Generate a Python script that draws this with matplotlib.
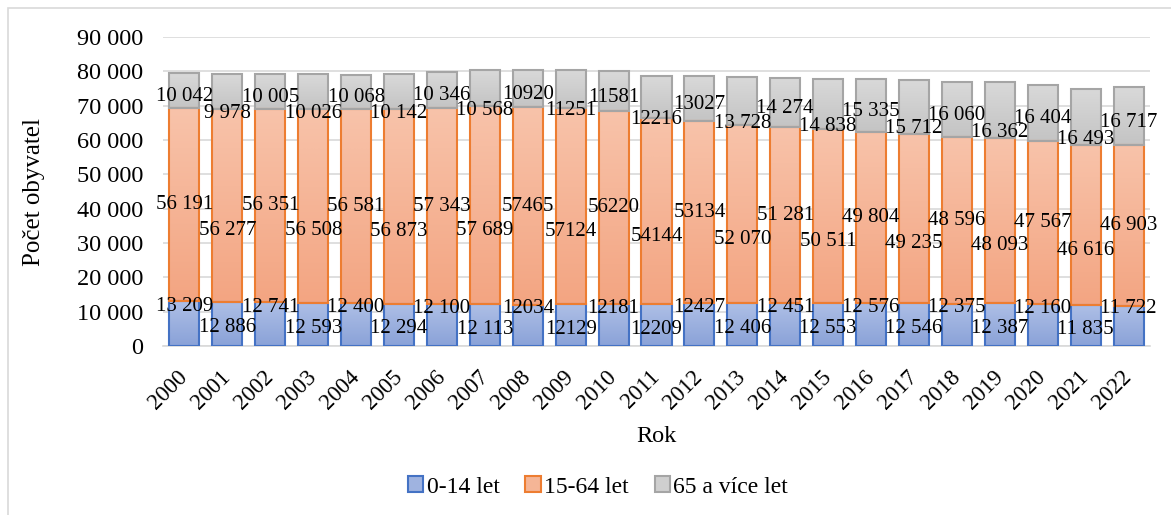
import matplotlib
matplotlib.use("Agg")
import matplotlib.pyplot as plt
import numpy as np
from matplotlib.patches import Patch, Rectangle
from matplotlib.colors import LinearSegmentedColormap

plt.rcParams['font.family'] = ['Liberation Serif', 'DejaVu Serif']

years = [str(y) for y in range(2000, 2023)]
kids = [13209, 12886, 12741, 12593, 12400, 12294, 12100, 12113, 12034, 12129, 12181, 12209,
        12427, 12406, 12451, 12553, 12576, 12546, 12375, 12387, 12160, 11835, 11722]
adults = [56191, 56277, 56351, 56508, 56581, 56873, 57343, 57689, 57465, 57124, 56220, 54144,
          53134, 52070, 51281, 50511, 49804, 49235, 48596, 48093, 47567, 46616, 46903]
seniors = [10042, 9978, 10005, 10026, 10068, 10142, 10346, 10568, 10920, 11251, 11581, 12216,
           13027, 13728, 14274, 14838, 15335, 15712, 16060, 16362, 16404, 16493, 16717]

kids_lbl = ["13 209", "12 886", "12 741", "12 593", "12 400", "12 294", "12 100", "12 113", "12034",
            "12129", "12181", "12209", "12427", "12 406", "12 451", "12 553", "12 576", "12 546",
            "12 375", "12 387", "12 160", "11 835", "11 722"]
adults_lbl = ["56 191", "56 277", "56 351", "56 508", "56 581", "56 873", "57 343", "57 689", "57465",
              "57124", "56220", "54144", "53134", "52 070", "51 281", "50 511", "49 804", "49 235",
              "48 596", "48 093", "47 567", "46 616", "46 903"]
seniors_lbl = ["10 042", "9 978", "10 005", "10 026", "10 068", "10 142", "10 346", "10 568", "10920",
               "11251", "11581", "12216", "13027", "13 728", "14 274", "14 838", "15 335", "15 712",
               "16 060", "16 362", "16 404", "16 493", "16 717"]

series_names = ["0-14 let", "15-64 let", "65 a více let"]
yticks = [0, 10000, 20000, 30000, 40000, 50000, 60000, 70000, 80000, 90000]
ytick_labels = ["0", "10 000", "20 000", "30 000", "40 000", "50 000", "60 000", "70 000", "80 000", "90 000"]

W, H = 1171, 515
fig = plt.figure(figsize=(W / 100, H / 100), dpi=100)
ax = fig.add_axes([163 / W, 1 - 346 / H, (1150 - 163) / W, (346 - 37) / H])

x = np.arange(len(years))
styles = [
    dict(top="#aebfe6", bottom="#8aa2d8", edge="#4472c4", legend="#9fb3e0"),
    dict(top="#f8c3aa", bottom="#f3a582", edge="#ed7d31", legend="#f5b596"),
    dict(top="#d9d9d9", bottom="#c4c4c4", edge="#a5a5a5", legend="#cfcfcf"),
]
data = [kids, adults, seniors]
labels = [kids_lbl, adults_lbl, seniors_lbl]
# label offsets in pixels (even index, odd index)
offsets = [(17, -4), (0, -25), (-6, -22)]

bottom = np.zeros(len(years))
grad = np.linspace(1, 0, 64).reshape(-1, 1)
for vals, st, lbls, off in zip(data, styles, labels, offsets):
    vals = np.array(vals, dtype=float)
    bars = ax.bar(x, vals, bottom=bottom, width=0.7, facecolor="none",
                  edgecolor=st["edge"], linewidth=1.5, zorder=3)
    cmap = LinearSegmentedColormap.from_list("g", [st["bottom"], st["top"]])
    for b in bars:
        bx, by = b.get_x(), b.get_y()
        bw, bh = b.get_width(), b.get_height()
        ax.imshow(grad, extent=[bx, bx + bw, by, by + bh], aspect="auto",
                  cmap=cmap, vmin=0, vmax=1, zorder=2, interpolation="bicubic")
    for i, (b, t) in enumerate(zip(bars, lbls)):
        cy = b.get_y() + b.get_height() / 2
        dy = off[i % 2] * 0.72
        ax.annotate(t, (b.get_x() + b.get_width() / 2, cy), xytext=(0, dy),
                    textcoords="offset points", ha="center", va="center",
                    fontsize=15, color="black", zorder=5)
    bottom = bottom + vals

ax.set_xlim(-0.5, len(years) - 0.5)
ax.set_ylim(0, 90000)
ax.set_yticks(yticks)
ax.set_yticklabels(ytick_labels, fontsize=17.5)
ax.set_xticks(x)
ax.set_xticklabels(years, fontsize=16.5, rotation=45, ha="right", va="center",
                   rotation_mode="anchor")
ax.tick_params(axis="both", length=0)
ax.tick_params(axis="y", pad=14)
ax.tick_params(axis="x", pad=20)
ax.grid(axis="y", color="#d9d9d9", linewidth=1.2, zorder=0)
ax.set_axisbelow(True)
for s in ["top", "right", "left"]:
    ax.spines[s].set_visible(False)
ax.spines["bottom"].set_color("#d9d9d9")
ax.spines["bottom"].set_linewidth(1.2)

ax.set_xlabel("Rok", fontsize=17.5)
ax.set_ylabel("Počet obyvatel", fontsize=18)
ax.yaxis.set_label_coords(-(163 - 45) / (1150 - 163), 0.5)
ax.xaxis.set_label_coords(0.5, -(426 - 346) / (346 - 37))

handles = [Patch(facecolor=st["legend"], edgecolor=st["edge"], linewidth=1.5, label=n)
           for st, n in zip(styles, series_names)]
fig.legend(handles=handles, loc="center", bbox_to_anchor=(598 / W, 1 - 487 / H), ncol=3,
           frameon=False, fontsize=17, handlelength=0.64, handleheight=0.64,
           handletextpad=0.15, columnspacing=1.1)

fig.add_artist(Rectangle((8 / W, -0.1), 1.2, 1.1 - 8 / H, transform=fig.transFigure,
                         fill=False, edgecolor="#d9d9d9", linewidth=1.2, clip_on=False))

fig.savefig("out.png", dpi=100)
